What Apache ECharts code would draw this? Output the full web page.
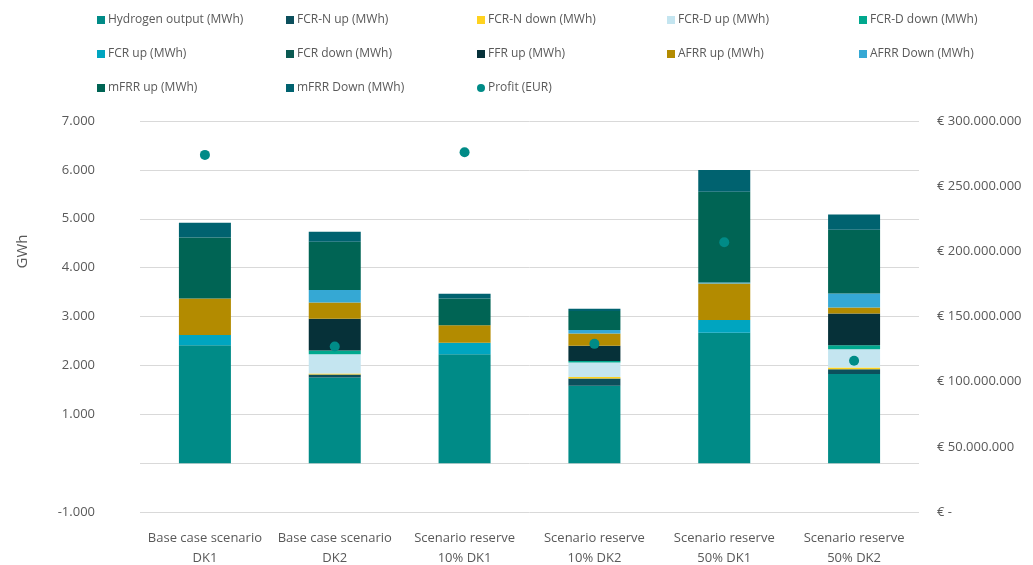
<!DOCTYPE html>
<html>
<head>
<meta charset="utf-8">
<style>
  html, body { margin: 0; padding: 0; background: #ffffff; }
  #chart { width: 1033px; height: 565px; }
</style>
<script src="https://cdn.jsdelivr.net/npm/echarts@6/dist/echarts.min.js"></script>
</head>
<body>
<div id="chart"></div>
<script>
// Scenario categories (two-line labels)
const categories = [
  'Base case scenario\nDK1',
  'Base case scenario\nDK2',
  'Scenario reserve\n10% DK1',
  'Scenario reserve\n10% DK2',
  'Scenario reserve\n50% DK1',
  'Scenario reserve\n50% DK2'
];

// Energy per product (MWh), stacked from bottom to top
const hydrogenOutput = [2414, 1750, 2230, 1582, 2666, 1821];
const fcrNUp        = [0, 65, 0, 151, 0, 102];
const fcrNDown      = [0, 20, 0, 27, 0, 34];
const fcrDUp        = [0, 395, 0, 300, 0, 375];
const fcrDDown      = [0, 75, 0, 27, 0, 82];
const fcrUp         = [205, 0, 231, 0, 260, 0];
const fcrDown       = [0, 0, 0, 0, 0, 0];
const ffrUp         = [0, 650, 0, 313, 0, 648];
const afrrUp        = [750, 330, 362, 254, 750, 123];
const afrrDown      = [0, 255, 0, 68, 20, 286];
const mfrrUp        = [1248, 990, 546, 389, 1854, 1303];
const mfrrDown      = [300, 205, 95, 48, 450, 313];

// Profit per scenario (EUR), right axis
const profit = [274000000, 127000000, 276000000, 129000000, 207000000, 116000000];

// Axis ticks
const leftTicks = { min: -1000, max: 7000, interval: 1000 };
const rightTicks = { min: 0, max: 300000000, interval: 50000000 };

const stackDefs = [
  ['Hydrogen output (MWh)', hydrogenOutput, '#008b87'],
  ['FCR-N up (MWh)',        fcrNUp,         '#0c4f5c'],
  ['FCR-N down (MWh)',      fcrNDown,       '#ffd21f'],
  ['FCR-D up (MWh)',        fcrDUp,         '#c4e5f0'],
  ['FCR-D down (MWh)',      fcrDDown,       '#00a88e'],
  ['FCR up (MWh)',          fcrUp,          '#00a5c0'],
  ['FCR down (MWh)',        fcrDown,        '#0a5a52'],
  ['FFR up (MWh)',          ffrUp,          '#063139'],
  ['AFRR up (MWh)',         afrrUp,         '#b38b00'],
  ['AFRR Down (MWh)',       afrrDown,       '#35a8d4'],
  ['mFRR up (MWh)',         mfrrUp,         '#006454'],
  ['mFRR Down (MWh)',       mfrrDown,       '#00626f']
];
const profitName = 'Profit (EUR)';
const profitColor = '#008b87';

function dotted(n) {
  const s = Math.abs(n).toString().replace(/\B(?=(\d{3})+(?!\d))/g, '.');
  return (n < 0 ? '-' : '') + s;
}

const series = stackDefs.map(([name, data, color]) => ({
  name,
  type: 'bar',
  stack: 'energy',
  data,
  barWidth: 52,
  itemStyle: { color },
  emphasis: { disabled: true }
}));
series.push({
  name: profitName,
  type: 'scatter',
  yAxisIndex: 1,
  data: profit,
  symbol: 'circle',
  symbolSize: 10,
  itemStyle: { color: profitColor, opacity: 1 },
  z: 10
});

// Legend laid out as five columns of up to three rows
const columns = [
  ['Hydrogen output (MWh)', 'FCR up (MWh)', 'mFRR up (MWh)'],
  ['FCR-N up (MWh)', 'FCR down (MWh)', 'mFRR Down (MWh)'],
  ['FCR-N down (MWh)', 'FFR up (MWh)', profitName],
  ['FCR-D up (MWh)', 'AFRR up (MWh)'],
  ['FCR-D down (MWh)', 'AFRR Down (MWh)']
];
const columnX = [92, 281, 472, 662, 854];
const legends = columns.map((names, i) => ({
  orient: 'vertical',
  left: columnX[i],
  top: 8,
  itemGap: 20,
  itemWidth: 8,
  itemHeight: 8,
  textStyle: { color: '#595959', fontSize: 12, fontFamily: 'Open Sans', padding: [0, 0, 0, -2], lineHeight: 14 },
  selectedMode: false,
  data: names.map(n => ({ name: n, icon: n === profitName ? 'circle' : 'rect' }))
}));

const chart = echarts.init(document.getElementById('chart'), null, { renderer: 'canvas' });
chart.setOption({
  animation: false,
  backgroundColor: '#ffffff',
  textStyle: { fontFamily: 'Open Sans' },
  legend: legends,
  grid: { left: 140, right: 114, top: 121, bottom: 53, containLabel: false, outerBoundsMode: 'none' },
  xAxis: {
    type: 'category',
    data: categories,
    axisLine: { show: false, onZero: false },
    axisTick: { show: false },
    axisLabel: { color: '#595959', fontSize: 13, lineHeight: 20, margin: 16, interval: 0 }
  },
  yAxis: [
    {
      type: 'value',
      min: leftTicks.min,
      max: leftTicks.max,
      interval: leftTicks.interval,
      name: 'GWh',
      nameLocation: 'middle',
      nameGap: 110,
      nameRotate: 90,
      nameTextStyle: { color: '#595959', fontSize: 15, padding: [0, 0, 0, 130] },
      axisLine: { show: false },
      axisTick: { show: false },
      splitLine: { lineStyle: { color: '#d9d9d9', width: 1 } },
      axisLabel: {
        color: '#595959', fontSize: 13, margin: 45,
        formatter: v => (v === 0 ? '' : dotted(v))
      }
    },
    {
      type: 'value',
      position: 'right',
      min: rightTicks.min,
      max: rightTicks.max,
      interval: rightTicks.interval,
      axisLine: { show: false },
      axisTick: { show: false },
      splitLine: { show: false },
      axisLabel: {
        color: '#595959', fontSize: 13, margin: 18,
        formatter: v => (v === 0 ? '€ -' : '€ ' + dotted(v))
      }
    }
  ],
  series
});
</script>
</body>
</html>
